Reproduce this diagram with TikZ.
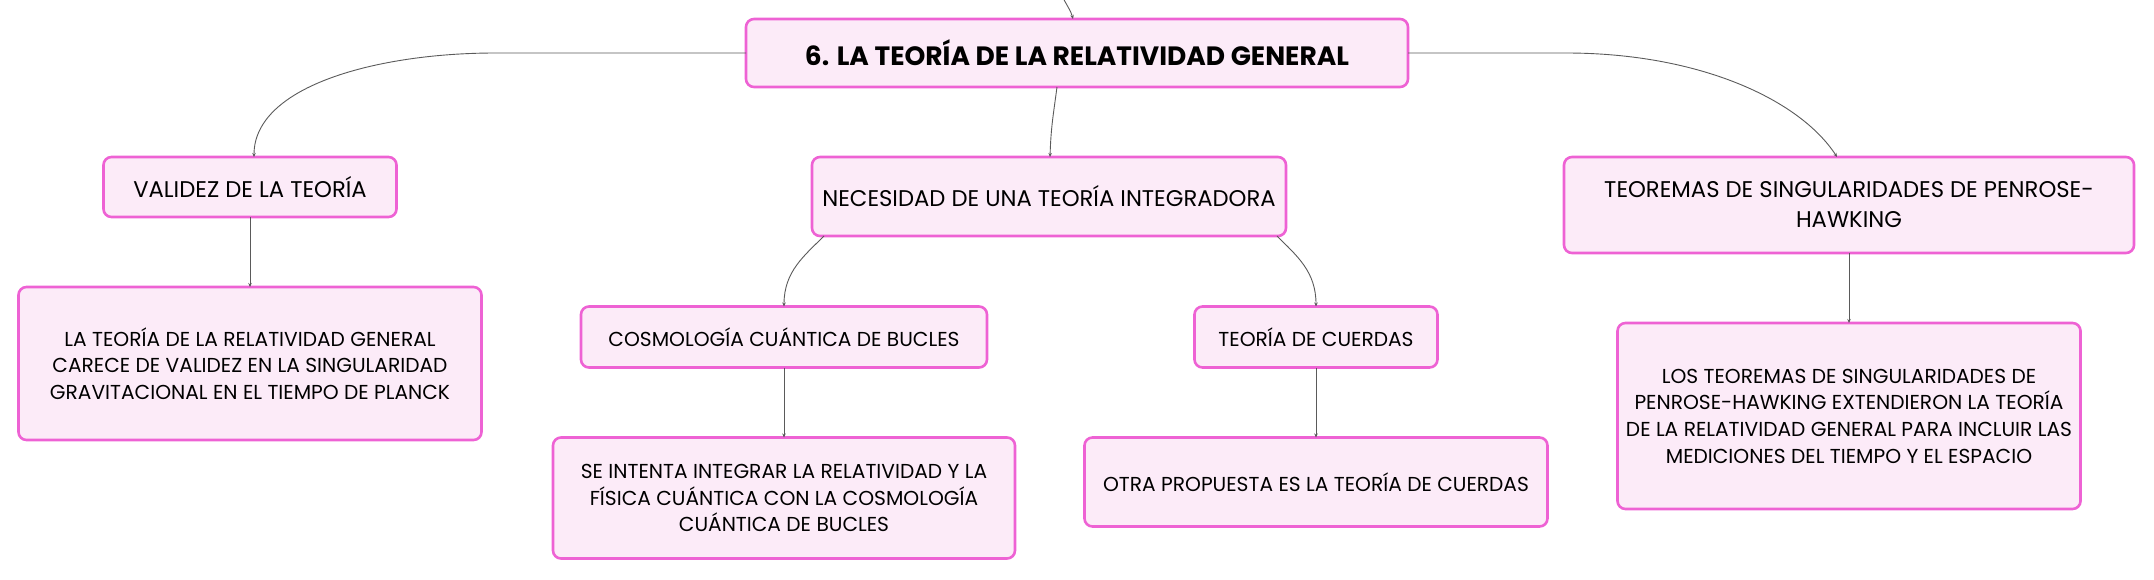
\documentclass[tikz,border=0pt]{standalone}
\usepackage{fontspec}
\setmainfont{Poppins}
\usetikzlibrary{positioning,arrows.meta}
\definecolor{boxline}{HTML}{EE62D4}
\definecolor{boxfill}{HTML}{FCEBF8}
\definecolor{linkgray}{HTML}{5A5A5A}

\begin{document}
\begin{tikzpicture}[
    x = 1pt, y = -1pt,
    > = {Stealth[length=4pt,width=3.5pt]},
    node distance = 70pt,
    box/.style={rectangle, rounded corners=8pt, draw=boxline, fill=boxfill, line width=2.6pt, align=center, inner sep=0pt, outer sep=0pt},
    topic/.style={box, font=\fontsize{22.7}{30}\selectfont},
    note/.style={box, font=\fontsize{20.2}{26.7}\selectfont},
    link/.style={->, draw=linkgray, line width=0.9pt}
]
    \useasboundingbox (0,0) rectangle (2154,579);

    \node[box, font=\fontsize{26.5}{30}\selectfont\bfseries, minimum width=662pt, minimum height=68pt] (title) at (1077,53) {6. LA TEORÍA DE LA RELATIVIDAD GENERAL};

    \node[topic, minimum width=293pt, minimum height=60pt] (val) at (250,187) {VALIDEZ DE LA TEORÍA};
    \node[note, below=of val, minimum width=463pt, minimum height=153pt] (valtxt) {LA TEORÍA DE LA RELATIVIDAD GENERAL\\CARECE DE VALIDEZ EN LA SINGULARIDAD\\GRAVITACIONAL EN EL TIEMPO DE PLANCK};

    \node[topic, minimum width=474pt, minimum height=79pt] (nec) at (1049,196.5) {NECESIDAD DE UNA TEORÍA INTEGRADORA};
    \node[note, minimum width=406pt, minimum height=61pt] (lqc) at (784,337) {COSMOLOGÍA CUÁNTICA DE BUCLES};
    \node[note, below=of lqc, minimum width=462pt, minimum height=121pt] (lqctxt) {SE INTENTA INTEGRAR LA RELATIVIDAD Y LA\\FÍSICA CUÁNTICA CON LA COSMOLOGÍA\\CUÁNTICA DE BUCLES};
    \node[note, minimum width=243pt, minimum height=61pt] (str) at (1316,337) {TEORÍA DE CUERDAS};
    \node[note, below=of str, minimum width=463pt, minimum height=89pt] (strtxt) {OTRA PROPUESTA ES LA TEORÍA DE CUERDAS};

    \node[topic, minimum width=570pt, minimum height=96pt] (sing) at (1849,205) {TEOREMAS DE SINGULARIDADES DE PENROSE-\\HAWKING};
    \node[note, below=of sing, minimum width=463pt, minimum height=186pt] (singtxt) {LOS TEOREMAS DE SINGULARIDADES DE\\PENROSE-HAWKING EXTENDIERON LA TEORÍA\\DE LA RELATIVIDAD GENERAL PARA INCLUIR LAS\\MEDICIONES DEL TIEMPO Y EL ESPACIO};

    \coordinate (up) at (1062,-4);
    \draw[link] (up) .. controls +(4,8) and +(-2,-8) .. ([xshift=-4pt]title.north);
    \draw[link] ([xshift=-20pt]title.south) .. controls +(-4,30) and +(1,-30) .. ([xshift=1pt]nec.north);
    \draw[link] (title.west) -- ++(-251,0) .. controls +(-115,0) and +(0,-72) .. ([xshift=4pt]val.north);
    \draw[link] (title.east) -- ++(158,0) .. controls +(134,0) and +(-37,-57) .. ([xshift=-12pt]sing.north);
    \draw[link] ([xshift=12pt]nec.south west) .. controls +(-20,20) and +(0,-35) .. (lqc.north);
    \draw[link] ([xshift=-9pt]nec.south east) .. controls +(20,20) and +(0,-35) .. (str.north);

    \draw[link] (val) -- (valtxt);
    \draw[link] (lqc) -- (lqctxt);
    \draw[link] (str) -- (strtxt);
    \draw[link] (sing) -- (singtxt);
\end{tikzpicture}
\end{document}
